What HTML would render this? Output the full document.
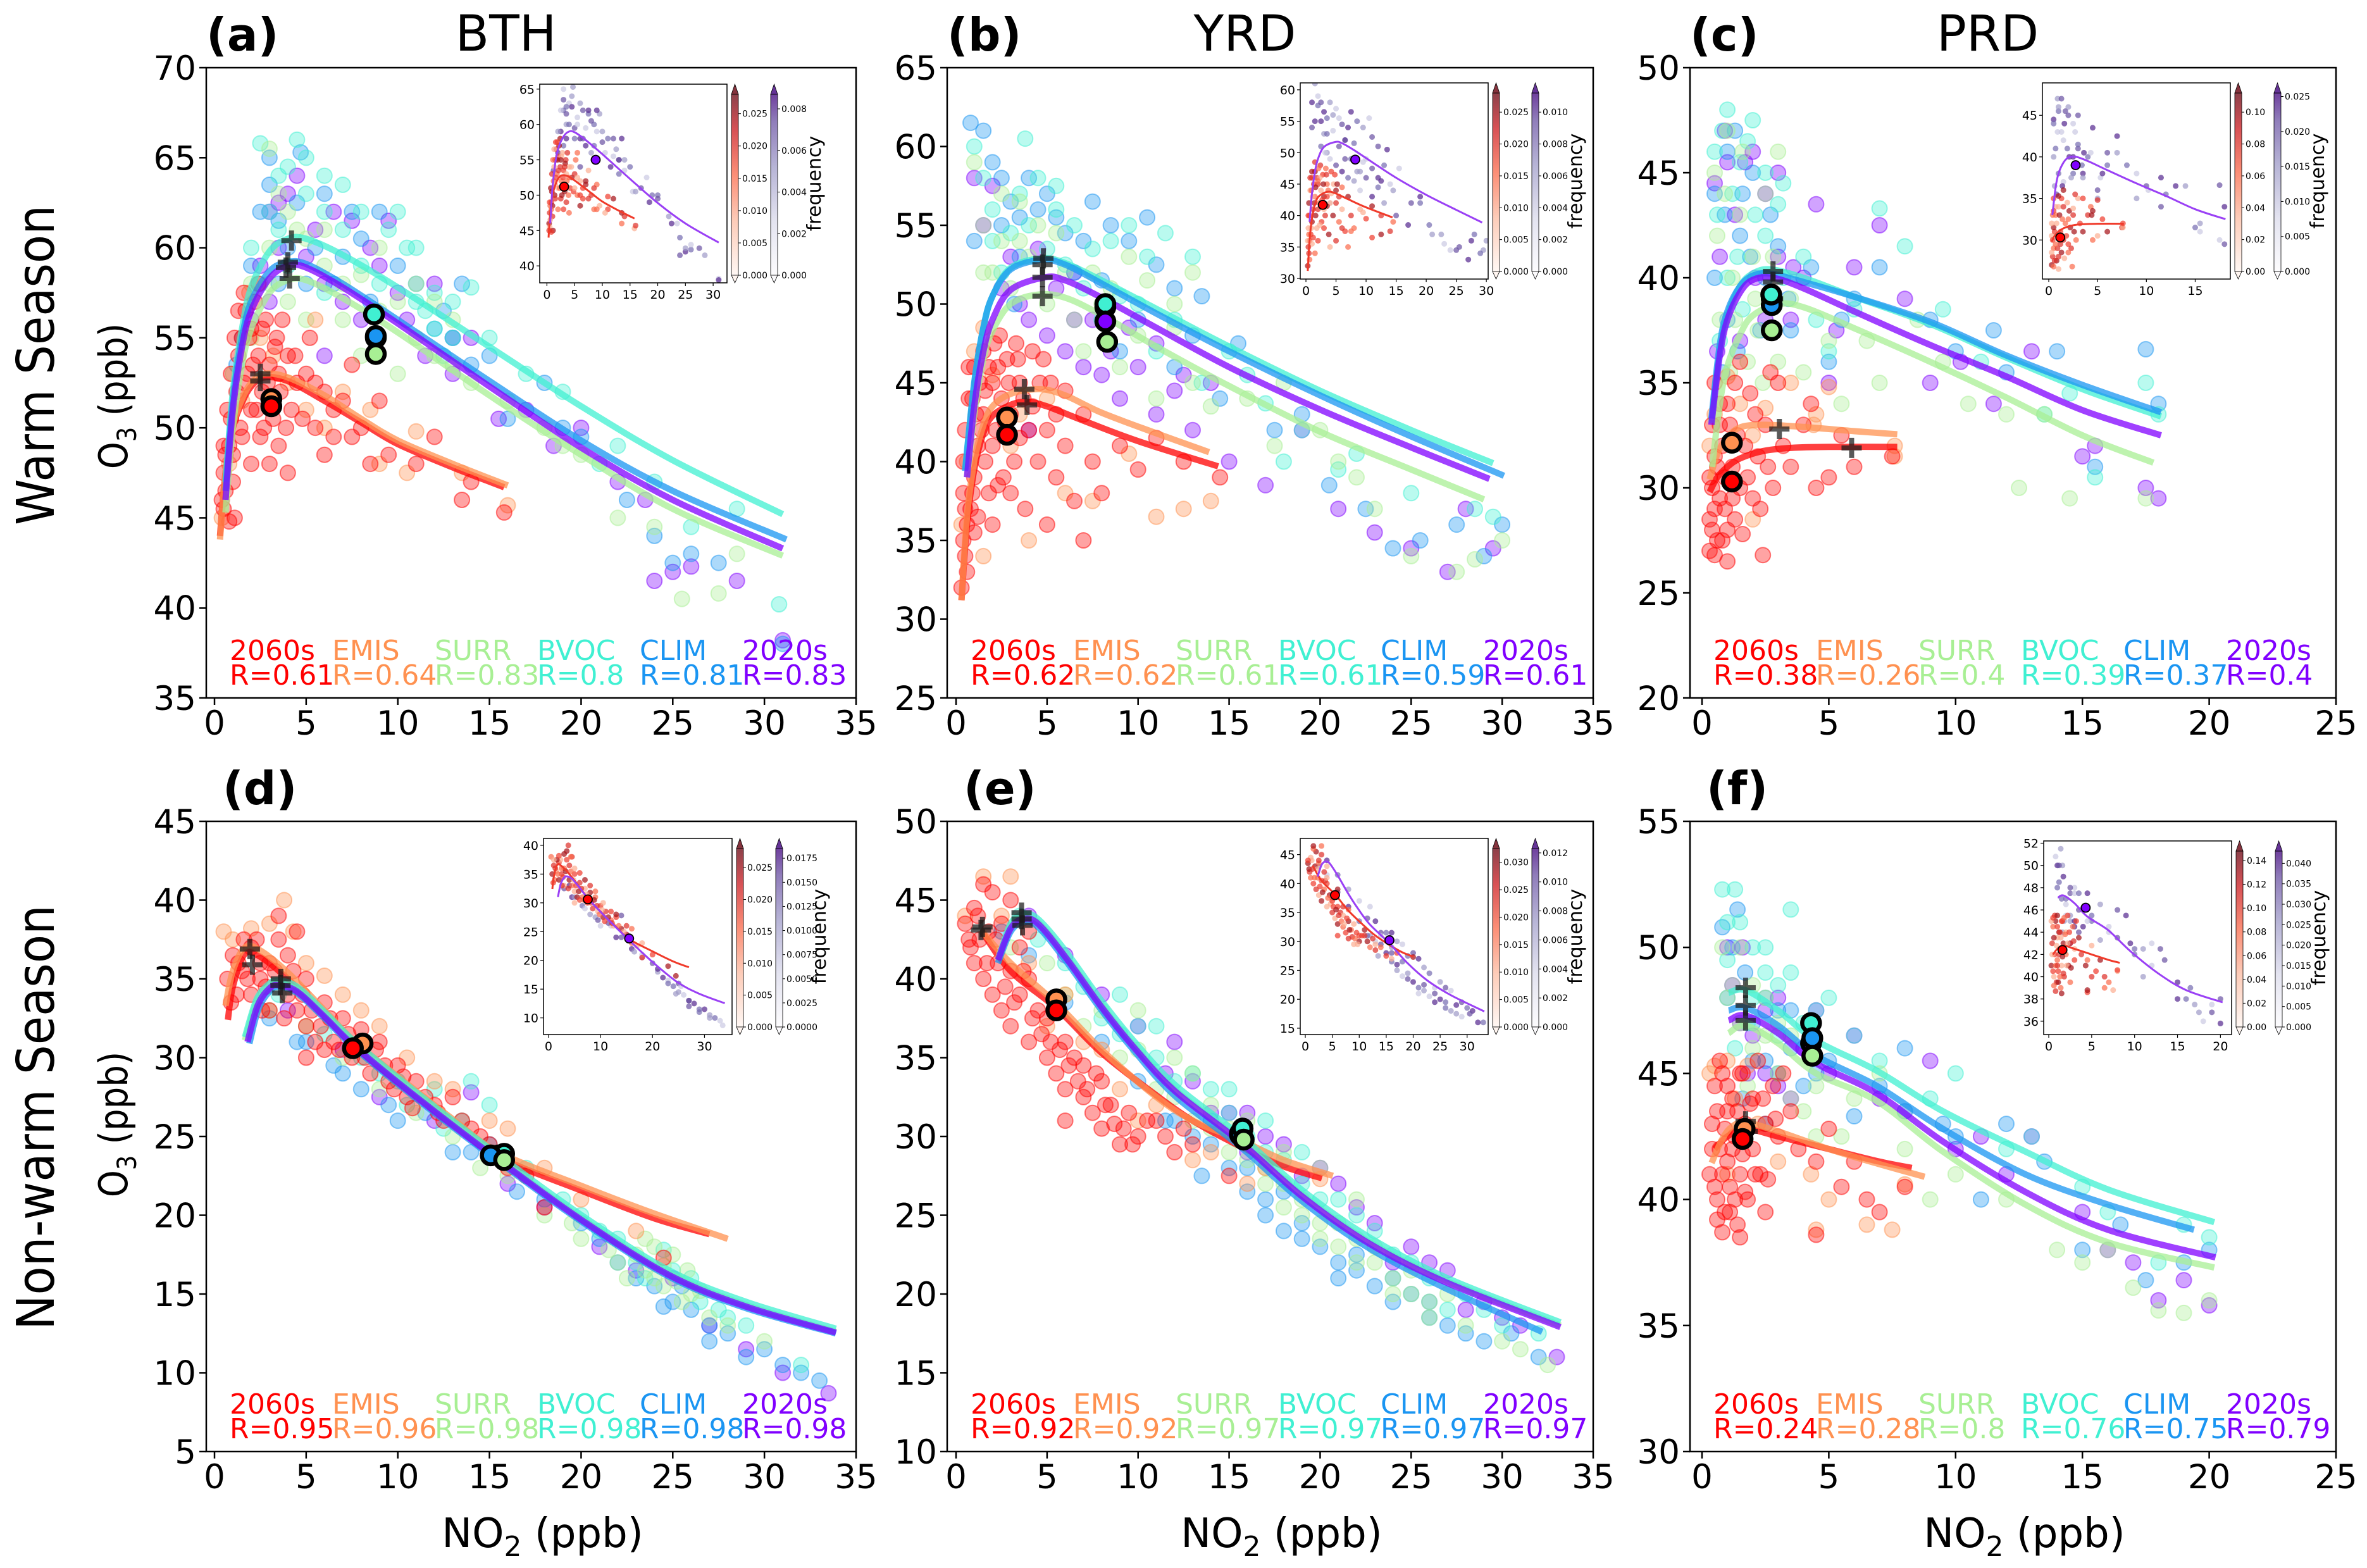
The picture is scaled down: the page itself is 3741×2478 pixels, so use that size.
<!DOCTYPE html>
<html><head><meta charset="utf-8"><title>O3 vs NO2 scatter panels</title>
<style>html,body{margin:0;padding:0;background:#fff}svg{display:block}text{font-family:"DejaVu Sans","Liberation Sans",sans-serif}</style>
</head><body>
<svg id="fig" xmlns="http://www.w3.org/2000/svg" width="3741" height="2478" viewBox="0 0 3741 2478"></svg>
<script>
// ---------- series ----------
const seriesNames = ['2060s','EMIS','SURR','BVOC','CLIM','2020s'];
const seriesColors = ['#ff0000','#ff9150','#a8ef94','#40f0d2','#1a95f2','#8000ff'];

// ---------- panel (a) BTH warm ----------
const a_2060s = [[0.4,46],[0.5,47.5],[0.6,48.5],[0.5,45.5],[0.8,49],[0.9,50.5],[1,47],[1.2,52],[1.3,54],[1.5,55],[1.4,50],[1.7,56.5],[1.8,53],[2,51],[2,55.5],[2.2,57],[2.4,54],[2.6,52],[2.8,56],[3,53.5],[3.2,50.5],[3.4,55],[3.6,52],[4,54],[4.2,51],[4.5,52.5],[5,53],[5.5,50],[6,52],[6.5,49.5],[7,51.5],[8,50],[9,51.5],[9.5,48.5],[11,48],[12,49.5],[14,47],[13.5,46],[15.8,45.3],[3,48],[1.1,45],[2.5,49.5],[5.2,55],[7.5,53.5],
 [0.5,49],[0.7,51],[0.9,53],[1.1,55],[1.3,56.5],[1.6,57.5],[1.9,55],[2.1,53.5],[2.3,51],[2.6,55.5],[2.9,52.5],[3.3,54.5],[3.7,56],[3.9,50],[4.4,54],[4.8,50.5],[1,48.5],[1.5,49.5],[2,48],[0.6,46.5],[0.8,44.8],[2.7,50],[3.5,49],[4,47.5],[5.5,52.5],[6.5,51],[6,48.5],[7.5,49.5],[8.5,48],[3.5,53],[1.6,52.5],[2.4,58]];
const a_EMIS = [[0.4,45],[0.8,48],[1.5,51.5],[1.9,57.5],[2.5,55],[3.2,54],[4,52.5],[5,51],[6,50],[7,52],[8.5,51],[9,48],[10.5,47.5],[11,49.8],[13.5,47.5],[16,45.7],[5.5,56]];
const a_SURR = [[1,53],[2,55],[3,58],[3.5,63],[4,57],[4.5,61],[5,56],[6,59],[7,58],[8,54],[9,56.5],[10,53],[11,55],[12,57],[14,52.5],[16,51.5],[18,50],[20,48.5],[22,45],[24,44.5],[25.5,40.5],[27.5,40.8],[28.5,43],[19,49],[13,56],[3,65.5],
 [2,58],[3,60],[4,62],[5,60.5],[6,61],[7,56],[8,58.5],[9,60],[10,57],[11,58],[12,54],[13,53.5]];
const a_BVOC = [[2.5,65.8],[3,62],[3.5,64],[4.5,66],[5,63],[6,64],[7,61],[8,62],[9.5,61],[10.5,60],[11,57],[11.5,56.5],[12,55.5],[13,55],[14,57.8],[15,55],[17,53],[19,52],[21,48],[22,49],[24,47],[26,44.5],[28.5,45.5],[30.8,40.2],[2,60],[4,59],[6,57.5],[9,58],
 [2.5,58],[3.5,61],[4,64.5],[5,65],[6,62],[7,63.5],[8,59],[10,62],[11,60],[12,57.5],[13,57],[12.5,54]];
const a_CLIM = [[1.5,55],[2.5,62],[3,63.5],[3.5,58],[4,60],[4.7,65.3],[5.5,60],[6.5,58],[7.5,62],[8.5,57],[10,59],[12,55.5],[13,55],[13.5,58],[15,54],[16,50.5],[18,52.5],[20,49.5],[22.5,46],[24,44],[25,42.5],[26,43],[27.5,42.5],[31,38],[19,50],
 [2,59],[3,65],[3.5,61.5],[4.5,62.5],[5,58],[6,63],[7,59.5],[8,60.5],[9,62],[11,58],[12.5,56.5],[14,53.5],[1.2,53.5]];
const a_2020s = [[2,56],[3,62],[3.5,60],[4,63],[5,59.5],[6,58],[7.5,61.5],[8,56],[9,59],[10,57.5],[11.5,54],[13,53],[14,55],[15.5,50.5],[17,51],[18.5,49],[20,50],[22,47],[23.5,46],[24,41.5],[25,42],[26,42.3],[28.5,41.5],[31,38.2],[6,54],
 [2.5,59],[3.5,62.5],[4.5,64],[5.5,61],[6.5,62],[7,57],[8.5,60],[9.5,61.5],[10.5,56],[12,58],[13,55],[3,57]];
const a_curve_2060s = [[0.3,44],[0.6,47.5],[1,50],[1.5,51.4],[2,52.3],[2.7,52.8],[4,52.6],[6,51.5],[8,50.3],[10,49.1],[13,47.8],[15.8,46.7]];
const a_curve_EMIS = [[0.3,43.8],[0.6,47.5],[1,50.1],[1.5,51.6],[2,52.5],[2.7,53],[4,52.8],[6,51.8],[8,50.5],[10,49.3],[13,48],[16,46.8]];
const a_curve_SURR = [[0.6,45.3],[1,50],[1.5,53.5],[2,55.5],[3,57.5],[4,58.2],[5,58.2],[7,57.2],[10,55.3],[15,51.8],[20,48.5],[25,45.5],[31,42.9]];
const a_curve_BVOC = [[0.6,47],[1,52],[1.5,55.5],[2,57.8],[3,59.8],[4,60.5],[5,60.5],[7,59.6],[10,57.8],[15,54.5],[20,51.2],[25,48.2],[31,45.2]];
const a_curve_CLIM = [[0.6,46.5],[1,51.5],[1.5,55],[2,57],[3,58.7],[4,59.2],[5,59.1],[7,58],[10,56],[15,52.6],[20,49.3],[25,46.5],[31.2,43.8]];
const a_curve_2020s = [[0.6,46],[1,51],[1.5,54.5],[2,56.5],[3,58.3],[4,59],[5,58.9],[7,57.8],[10,55.8],[15,52.3],[20,48.9],[25,46],[31,43.3]];
const a_markers = [['EMIS',3.1,51.6],['2060s',3.1,51.2],['2020s',8.8,55],['CLIM',8.8,55.1],['SURR',8.8,54.1],['BVOC',8.7,56.3]];
const a_crosses = [[2.5,53],[2.5,52.6],[4.2,60.4],[4,59.2],[3.9,58.9],[4.1,58.3]];
const a_R = ['0.61','0.64','0.83','0.8','0.81','0.83'];

// ---------- panel (b) YRD warm ----------
const b_2060s = [[0.3,32],[0.5,34],[0.6,36],[0.4,38],[0.8,37],[1,39],[1.2,41],[1.5,43],[0.7,44],[1,46],[1.5,47],[2,45],[2.2,42],[2.5,44],[2.8,46.5],[3,43],[3.2,40],[3.5,45],[4,42],[4.2,47],[4.5,40],[5,42],[5.5,39],[6,41],[6.5,37.5],[7,43],[7.5,40],[8,38],[9,41],[10,39.5],[11,41.5],[12.5,40],[14.5,39],[1.8,38],[2.6,39],[3.8,37],[5,36],[7,35],[1,35.5],[2,36],[1.4,42],[2.4,48],[3.3,47.5],[4.6,45],
 [0.4,40],[0.5,42],[0.7,46],[0.9,44],[1.1,43],[1.3,45],[1.6,44.5],[1.8,46],[2.1,47.5],[2.3,46],[2.7,42.5],[2.9,45],[3.4,46.5],[3.7,44],[4.2,43.5],[4.8,46.5],[5.2,45],[0.4,35],[0.6,33],[0.9,38],[1.2,36.5],[1.6,40],[2,41],[0.5,37],[2.3,38.5],[3,38],[3.5,41.5],[5.5,43],[6,44.5]];
const b_EMIS = [[0.3,36],[0.6,40],[1,47],[1.5,48.5],[2,45.5],[3,41],[3.5,43],[5,44],[6,38],[7.5,37.5],[9.5,40.5],[11,36.5],[12.5,37],[14,37.5],[1.5,34],[4,35]];
const b_SURR = [[1,59],[1.5,55],[2,52],[2.5,57],[3,51],[3.5,54],[4,53],[5,50],[6,52],[7,47],[8,50],[9,46],[10,48],[11,44],[12,48.5],[13,45],[14,43.5],[16,44],[17.5,41],[18,45],[20,42],[21,40],[22,39],[23,37],[25,34],[27.5,33],[28.5,33.8],[30,35],
 [1.5,52],[2.5,54],[3.5,56.5],[4.5,55],[5.5,54.5],[6.5,49],[7.5,52],[8.5,51],[9.5,53],[10.5,51.5],[12,50],[13,52]];
const b_BVOC = [[1,60],[1.5,58],[2,56],[3,54.5],[4,55],[5,53.5],[6,52.5],[7,51],[8,49],[9,50.5],[10,50],[11,47],[12,49],[13.5,45],[15,47],[16,45.5],[17,43.7],[18,40],[19,42],[21,39.5],[22,40.5],[25,38],[28.5,37],[29.5,36.5],[3.8,60.5],[5.5,56],
 [2,54],[2.5,52],[3.5,57],[4.5,58],[5.5,57.5],[6.5,55],[7.5,53.5],[8.5,54],[9.5,55],[10.5,53],[11.5,54.5],[13,53]];
const b_CLIM = [[0.8,61.5],[1.5,61],[2,59],[2.5,58],[3,56.5],[3.5,55.5],[4.5,56],[5.5,55.5],[6.5,52],[7,54],[8,51.5],[9,47],[10,49],[11,52.5],[12,46],[13,48],[14.5,44],[15.5,47.5],[17.5,42],[19,43],[20.5,38.5],[22.5,37],[24,34.5],[25.5,35],[27.5,36],[29,34],[30,36],[3.2,50],
 [1,54],[2.5,55],[3.5,53],[4,58],[5,57],[6,54.5],[7.5,56.5],[8.5,55],[9.5,54],[10.5,55.5],[12,51],[13.5,50.5]];
const b_2020s = [[1,58],[2,57.5],[3,53],[4,49],[5,48],[6,47],[7,46],[8,45.5],[9,44],[10,46],[11,43],[12,44.5],[13,42],[14,45],[15,40],[17,38.5],[19,42],[21,37],[23,35.5],[25,34.5],[27,33],[28,37],[29.5,34.5],[4,42],[6.5,49],
 [1.5,55],[2.5,51],[3.5,50],[4.5,53.5],[5.5,51],[6.5,52],[7.5,49],[8.5,47],[9.5,48.5],[11,47.5],[12.5,45.5]];
const b_curve_2060s = [[0.3,31.2],[0.6,36],[1,39.5],[1.5,41.8],[2,42.9],[3,43.6],[3.9,43.8],[5,43.5],[7,42.6],[10,41.3],[14.4,39.7]];
const b_curve_EMIS = [[0.3,31.2],[0.6,36.5],[1,40],[1.5,42.3],[2,43.5],[3,44.3],[4.6,44.6],[6,44.2],[8,43.1],[11,41.8],[13.9,40.6]];
const b_curve_SURR = [[0.6,39],[1,43],[1.5,46.5],[2,48.3],[3,50],[4.5,50.6],[6,50.4],[8,49.3],[11,47.3],[15,44.8],[20,41.9],[25,39.5],[29,37.6]];
const b_curve_BVOC = [[0.5,39.5],[1,45],[1.5,48.5],[2,50.5],[3,52.3],[4.7,52.9],[6,52.6],[8,51.5],[11,49.7],[15,47.3],[20,44.5],[25,42],[29.5,39.9]];
const b_curve_CLIM = [[0.5,39.4],[1,45],[1.5,48.5],[2,50.5],[3,52.2],[4.7,52.8],[6,52.5],[8,51.3],[11,49.4],[15,47],[20,44.2],[25,41.6],[30.1,39.1]];
const b_curve_2020s = [[0.6,39],[1,43.5],[1.5,47],[2,49],[3,50.9],[4.9,51.7],[6,51.5],[8,50.4],[11,48.5],[15,46],[20,43.3],[25,40.9],[29.3,38.9]];
const b_markers = [['EMIS',2.8,42.8],['2060s',2.8,41.7],['CLIM',8.2,49.8],['BVOC',8.2,50.0],['2020s',8.2,48.9],['SURR',8.3,47.6]];
const b_crosses = [[3.75,44.6],[3.9,43.6],[4.8,52.9],[4.75,51.7],[4.75,50.5],[4.75,52.5]];
const b_R = ['0.62','0.62','0.61','0.61','0.59','0.61'];

// ---------- panel (c) PRD warm ----------
const c_2060s = [[0.3,27],[0.4,28],[0.5,29],[0.3,30.5],[0.6,31],[0.8,27.5],[0.9,29],[0.7,33],[1,34],[1.2,31],[1.3,28.5],[1.5,30],[1.7,32],[1.9,34.5],[2,29.5],[2.2,31.5],[2.5,33],[2.8,30],[3,35],[3.2,32],[3.5,31],[4,33],[4.3,34],[5,30.5],[5.5,32.5],[6,31],[7.5,31.5],[2.4,26.8],[1,26.5],[0.5,35],[1.5,36],[2.7,35.5],[4.5,30],
 [0.3,28.5],[0.4,30],[0.5,31.5],[0.6,27.5],[0.7,29.5],[0.8,32],[0.9,30.5],[1.1,33],[1.2,29.5],[1.4,32.5],[1.6,27.8],[1.8,30.5],[2.1,33.5],[2.3,29],[0.5,26.8],[0.7,34],[1.3,35],[2.6,31],[1,28],[0.4,33]];
const c_EMIS = [[0.3,32],[0.5,33.5],[1,35.3],[1.5,34],[2,32.5],[2.5,33.8],[3.5,35],[4.5,33.5],[5,34.8],[2,28.5],[7.6,31.5],[7.6,32],[4.4,33]];
const c_SURR = [[0.5,45],[1,47],[1.5,43],[2,41],[2.5,44],[3,36],[3,46],[3.5,39],[4,35.5],[5,37],[5.5,34],[6.5,37],[7,35],[8.5,38],[9.5,36],[10.5,34],[12,33.5],[12.5,30],[13.5,33.5],[14.5,29.5],[17.5,29.5],[2.2,37.5],[1.3,38],
 [0.6,42],[0.9,44],[1.2,40],[1.6,46],[1.8,36],[2.1,39],[2.4,35],[0.7,38],[1.1,35.5],[2.8,41]];
const c_BVOC = [[0.5,46],[1,48],[1.5,45.5],[2,47.5],[2.5,42],[3,43.5],[3.2,40],[4,41],[4.5,38],[5,36.5],[6,38.5],[7,43.3],[8,41.5],[9.5,38.5],[11,36],[13.5,33.5],[14.5,34.5],[15.5,30.5],[17.5,35],[18,33.5],[1,40],
 [0.6,43],[0.8,47],[1.2,44],[1.4,41],[1.8,46.5],[2.1,43],[2.5,45],[0.7,37],[1.6,38.5],[3.2,44.5]];
const c_CLIM = [[0.5,44],[1,46],[1.5,42],[2,45],[2.5,40],[3,41.5],[3.5,37.5],[4.3,40.5],[5,36],[5.5,38],[6,39],[7,40.5],[9,38],[10,36.5],[11.5,37.5],[12,35.5],[14,36.5],[15.5,31],[17.5,36.6],[18,34],[1,38],
 [0.5,40],[0.9,43],[1.3,47],[1.6,44],[1.9,41],[2.3,37.5],[2.7,43],[0.8,35.5],[1.4,36.5],[3.4,39]];
const c_2020s = [[0.5,44.5],[1,45.5],[2,46],[2.5,44],[3,41],[3.5,38],[4,40],[5,35],[5.3,37.5],[6,40.5],[7,42.5],[8,39],[9,35],[10.2,36],[11.5,34],[13,36.5],[15,31.5],[15.5,32],[17.5,30],[18,29.5],[4.5,43.5],
 [0.7,41],[0.9,47],[1.3,43],[1.7,45.5],[2.1,40],[2.5,38],[0.6,36.5],[1.5,37],[3,45],[3.6,40.5]];
const c_curve_2060s = [[0.3,29.8],[0.6,30.5],[1,31],[1.5,31.4],[2.4,31.75],[3.5,31.9],[5,31.95],[7.7,31.95]];
const c_curve_EMIS = [[0.3,30.4],[0.6,31.6],[1,32.4],[1.55,32.9],[2.5,33],[4,32.9],[6,32.7],[7.7,32.55]];
const c_curve_SURR = [[0.4,31],[0.7,34],[1,35.8],[1.5,37.3],[2,38.2],[3,38.75],[4,38.6],[6,37.6],[9,36],[12,34.3],[15,32.5],[17.8,31.2]];
const c_curve_BVOC = [[0.37,33.1],[0.7,36.5],[1,38.2],[1.5,39.6],[2,40.2],[2.7,40.4],[4,40],[6,39.1],[9,37.8],[12,36.2],[15,34.7],[18.1,33.4]];
const c_curve_CLIM = [[0.37,33.3],[0.7,36.8],[1,38.4],[1.5,39.6],[2,40.1],[2.7,40.2],[4,39.8],[6,39.1],[9,37.9],[12,36.3],[15,34.9],[18.1,33.6]];
const c_curve_2020s = [[0.37,33],[0.7,36.3],[1,38],[1.5,39.3],[2,39.9],[2.8,40],[4,39.5],[6,38.4],[9,36.8],[12,35.3],[15,33.7],[18.1,32.5]];
const c_markers = [['EMIS',1.18,32.15],['2060s',1.18,30.3],['2020s',2.75,39],['CLIM',2.75,38.7],['BVOC',2.73,39.2],['SURR',2.75,37.5]];
const c_crosses = [[3.05,32.8],[5.9,31.9],[2.8,40.3],[2.8,39.8],[2.8,39.0]];
const c_R = ['0.38','0.26','0.4','0.39','0.37','0.4'];

// ---------- panel (d) BTH non-warm ----------
const d_2060s = [[0.7,35],[1,36.5],[1.2,34],[1.5,35.5],[2,37],[2,34],[2.5,35],[3,36],[3,33],[3.5,37.5],[4,34],[4,36.5],[4.5,33],[5,32],[5,35],[5.5,31],[6,33.5],[6.5,31],[7,32.5],[7.5,30],[8,31.8],[8.5,29],[9,31],[9.5,28.5],[10,29.5],[10.5,27.5],[11,28.5],[12,27],[12.5,26],[13,27.5],[14,25.5],[15,24.5],[16,23],[17,22.5],[18,20.5],[3.5,39],[4.5,38],[2.5,36],[5,30],[6,30.5],[24.5,17.3],
 [1.3,36],[1.8,35],[2.3,37.5],[2.8,34.5],[3.3,35.5],[3.8,32.5],[4.3,35.5],[4.8,34],[5.3,33],[5.8,32],[6.3,32.5],[6.8,30.5],[7.3,31.5],[8.2,30],[8.8,30.5],[9.3,29.5],[9.8,28],[10.3,28.8],[10.8,26.8],[11.5,27.5],[12.2,26.5],[13.5,26],[14.5,25],[0.9,33.5],[1.6,37.5],[2.6,33]];
const d_EMIS = [[0.5,38],[1,37.5],[2,38.2],[3,38.5],[3.8,40],[4.3,38],[5,36],[6,35.2],[7,34],[8,33],[9,32],[10.5,30],[12,28.5],[13,28],[15,26],[16,25.5],[18,23],[20,21],[23,19]];
const d_SURR = [[3,33],[5,32],[7,30],[9,28],[11,26.5],[13,25],[14.5,23],[16,22.5],[18,20],[20,18.5],[22,17],[23.5,16.5],[24.5,16.8],[25,17.5],[26,15],[25.5,14.5],[27,13.5],[28,13],[30,12],[24,18],
 [22.5,16],[23,17.5],[24,16],[24.5,15.5],[25.2,15.8],[25.8,16.5],[26.5,15.2],[23.5,18.5],[21.5,17.8],[19.5,19.5]];
const d_BVOC = [[3.5,34],[6,31.5],[8,30],[10,28.5],[12,28],[13.5,26],[15,27],[17,23],[19,21],[21,19],[23,17],[24.5,17.8],[26,16],[28,13.5],[32,10.5],[14,28.5],
 [20,20],[22,18.5],[23.5,16],[25,16.5],[26.5,14.5],[27.5,14],[29,13],[12.5,25.5],[10.5,27],[9,29]];
const d_CLIM = [[3,32.5],[4.5,31],[6.5,29.5],[8,28],[10,26],[11.5,26.5],[13,24],[15,24.5],[16.5,21.5],[18,21],[20,19.5],[22,17],[24,15.5],[25,14.5],[26,14],[27,13],[28,12.5],[29,11],[31,10.5],[33,9.5],[14,24],
 [21,18.5],[23,16],[24.5,14.2],[25.5,15.5],[27,12],[30,11.5],[32,10],[5,31],[7,29],[9.5,27]];
const d_2020s = [[4,33],[7,30.5],[9,27.5],[12,26],[14,27.8],[16,22],[18,20.5],[21,18],[23,16.5],[25,16],[27,13],[29,11.5],[31,10],[33.5,8.7]];
const d_curve_2060s = [[0.73,32.4],[1,34.5],[1.66,36.6],[2.5,36.4],[4,35],[6,32.7],[7.66,30.7],[10,28.5],[13,25.8],[15.5,23.7],[20.15,21.5],[24,19.8],[27,18.8]];
const d_curve_EMIS = [[0.6,33.3],[1,35.5],[1.66,37],[2.5,36.8],[4,35.4],[6,33],[7.66,31],[10,28.8],[13,26.1],[15.5,24],[20.15,21.8],[24,20.1],[28,18.5]];
const d_curve_SURR = [[1.66,31.1],[2.3,33.5],[3,34.5],[3.5,34.7],[4.5,34.3],[6,32.7],[7.66,30.8],[10.9,27.7],[15.5,23.6],[20.15,19.7],[24.8,16.3],[29,14.3],[33.9,12.6]];
const d_curve_BVOC = [[1.66,31.3],[2.3,33.7],[3,34.7],[3.5,34.9],[4.5,34.5],[6,32.9],[7.66,31],[10.9,27.9],[15.5,23.8],[20.15,19.9],[24.8,16.5],[29,14.5],[33.9,12.8]];
const d_curve_CLIM = [[1.9,30.9],[2.4,33.1],[3,34.2],[3.5,34.5],[4.5,34.1],[6,32.5],[7.66,30.6],[10.9,27.5],[15.5,23.4],[20.15,19.5],[24.8,16.1],[29,14.1],[33.9,12.5]];
const d_curve_2020s = [[1.8,31],[2.35,33.3],[3,34.4],[3.5,34.6],[4.5,34.2],[6,32.6],[7.66,30.7],[10.9,27.6],[15.5,23.5],[20.15,19.6],[24.8,16.2],[29,14.2],[33.9,12.55]];
const d_markers = [['EMIS',8.08,30.9],['2060s',7.55,30.6],['2020s',15.5,23.8],['BVOC',15.8,23.9],['CLIM',15.07,23.8],['SURR',15.8,23.5]];
const d_crosses = [[1.93,36.9],[2.07,35.9],[3.62,35.0],[3.7,34.1],[3.6,34.6]];
const d_R = ['0.95','0.96','0.98','0.98','0.98','0.98'];

// ---------- panel (e) YRD non-warm ----------
const e_2060s = [[0.5,43.5],[0.8,42],[1,41],[1.2,44],[1.5,40],[1.8,43],[2,39],[2.3,41],[2.5,38],[3,40.5],[3,37],[3.5,42],[3.5,39],[4,36],[4,40],[4.5,38],[5,35],[5,37.5],[5.5,34],[6,36],[6,33],[6.5,35],[7,32.5],[7,34.5],[7.5,31.5],[8,33.5],[8,30.5],[8.5,32],[9,29.5],[9.5,31.5],[10,30],[11,31],[12,29],[13,29.5],[15,27.5],[2,45.5],[3,45],[1.5,46],[4,43],[6,31],
 [0.7,42.5],[1.3,42.5],[1.7,41],[2.2,42.5],[2.7,39.5],[3.2,38.5],[3.7,40.5],[4.2,37.5],[4.7,36.5],[5.2,36],[5.7,35.5],[6.2,34.5],[6.7,33.5],[7.2,33],[7.7,34],[8.2,32],[8.7,30.8],[9.2,30.5],[9.7,29.5],[10.5,31],[11.5,30],[12.5,30.5],[2.5,43.5],[1,44.5]];
const e_EMIS = [[0.5,44],[1.5,46.5],[2.5,44],[3,46.5],[4,41],[5,37],[6,39],[7,36],[8,35.5],[9,33],[10,31],[11,32],[13,28.5],[14,29],[16,27],[17,28],[20,27.3]];
const e_SURR = [[3,42],[5,41],[6,39],[7,37],[8,38],[9,35],[10,35.5],[11,33],[12,32.5],[13,31],[14,30.5],[15,29],[16,28.5],[17,27],[18,25.5],[19,26],[20,24.5],[21,23],[22,23.5],[23,22],[24,21],[25,20],[26,19.5],[27,20],[28,18],[30,17],[31,16.5],[32.5,15.5],[13,34],[16,31],[18,29],[20,28],[22,26],
 [10,38],[12,35],[14,32],[15,30.5],[16,29.5],[17,28],[18,27],[19,25],[20,23.5],[21,24.5],[22,22],[23,23],[24,20],[25,21.5],[26,18.5]];
const e_BVOC = [[3.5,44],[4.5,42.5],[6,41],[7,39.5],[8,37.5],[9,36.5],[10,37],[11,35],[12,33.5],[14,33],[15,31.5],[16,30],[17,31],[18,28.5],[19,27],[20,26],[22,25],[24,22.5],[26,21],[28,20],[30,18],[32,17.5],[9,39],
 [11,37],[13,34],[15,33],[17,29],[19,29],[21,26],[23,24],[25,22],[27,19],[29,19]];
const e_CLIM = [[2.5,43],[4,41.5],[6,38.5],[8,36],[10,33.5],[12,31],[13,30],[14,29.5],[15,28],[16,26.5],[17,25],[18,24],[19,23.5],[20,23],[21,22],[22,21.5],[23,20.5],[24,21],[25,20],[26,18.5],[27,18],[29,17],[30.5,17.5],[32,16],[11.5,31],[13.5,27.5],
 [14,31],[16,28],[17,26],[18,26.5],[19,24.5],[21,21],[22,22.5],[24,19.5],[26,19.5],[28,17.5]];
const e_2020s = [[4,44],[6,41.5],[8,39],[10,37],[11.5,34],[13,33.5],[15,31.5],[17,30],[18,29.5],[20,28],[21,27],[23,24.5],[25,23],[27,21.5],[29,19.5],[31,18],[33,16],[16,29],
 [12,36],[14,31.5],[16,31.5],[19,27.5],[22,25.5],[24,22],[26,22],[28,19],[30,18.5]];
const e_curve_2060s = [[1.37,43.1],[3,40.5],[5.55,38.1],[8,35.3],[10.9,32.7],[13,31],[15.56,29.4],[18,28.1],[20.1,27.35]];
const e_curve_EMIS = [[1.37,43.1],[3,41],[5.55,38.4],[8,35.5],[10.9,32.6],[13,31],[15.56,29.8],[18,28.5],[20.7,27.5]];
const e_curve_SURR = [[2.3,41.3],[3,43.3],[3.7,43.9],[4.5,43.6],[6,41.5],[8,38.3],[9.74,35.8],[12,33],[15.56,29.8],[19,26.3],[22.7,23.3],[27,20.8],[33.2,18]];
const e_curve_BVOC = [[2.4,41.5],[3,43.5],[3.7,44.1],[4.5,43.8],[6,41.8],[8,38.6],[9.74,36.1],[12,33.3],[15.56,30.1],[19,26.6],[22.7,23.6],[27,21],[33.2,18.2]];
const e_curve_CLIM = [[2.3,41],[3,43],[3.7,43.6],[4.5,43.3],[6,41.2],[8,38],[9.74,35.5],[12,32.6],[15.56,29.4],[19,25.9],[22.7,22.9],[27,20.3],[32.2,17.6]];
const e_curve_2020s = [[2.3,41.2],[3,43.2],[3.7,43.8],[4.5,43.5],[6,41.4],[8,38.2],[9.74,35.7],[12,32.9],[15.56,29.7],[19,26.2],[22.7,23.2],[27,20.7],[33.2,17.9]];
const e_markers = [['EMIS',5.51,38.7],['2060s',5.51,38.0],['2020s',15.6,30.2],['CLIM',15.6,30.1],['BVOC',15.74,30.5],['SURR',15.8,29.8]];
const e_crosses = [[1.37,43.1],[1.45,43.3],[3.6,43.8],[3.65,43.4],[3.6,44.2]];
const e_R = ['0.92','0.92','0.97','0.97','0.97','0.97'];

// ---------- panel (f) PRD non-warm ----------
const f_2060s = [[0.3,41],[0.4,43],[0.5,44.5],[0.6,40],[0.7,42],[0.8,45],[0.9,39.5],[1,41.5],[1,43.5],[1.1,40.5],[1.2,44],[1.3,42.5],[1.4,39],[1.5,41],[1.6,45],[1.7,43],[1.8,40],[2,42],[2,44],[2.2,45.5],[2.3,41],[2.5,43],[2.8,44.5],[3,42.5],[3.2,45],[3.5,43.5],[3.8,42],[4.5,41.5],[5,42.8],[5.5,40.5],[6,41.5],[6.5,40],[7,39.5],[8,40.5],[4.5,38.6],[1.5,38.5],[0.8,38.7],[2.5,39.5],
 [0.4,42],[0.5,40.5],[0.6,43.5],[0.7,45.5],[0.8,41],[0.9,42.8],[1,44.5],[1.1,39.5],[1.2,42],[1.3,40],[1.4,43.5],[1.5,45],[1.6,41.8],[1.7,40.3],[1.9,43.8],[2.1,41],[2.4,44],[2.6,40.8],[2.9,43.2],[0.6,39.2]];
const f_EMIS = [[0.3,45],[0.5,45.3],[1,45.5],[1.3,44],[1.8,45.3],[2.2,43],[3,41.5],[4.3,41],[5,40],[6.5,39],[7.5,38.8],[8,40.6],[4.5,38.8],[1,41]];
const f_SURR = [[0.8,50],[1,48],[1.5,47],[2,46],[2.5,48],[3,45],[3.5,44],[4,43.5],[4.5,44.5],[5.5,42.5],[6,44],[7,45],[8,42],[9,40],[10,41],[12,40],[14,38],[15,37.5],[16,38],[17,36.5],[18,35.6],[19,35.5],[20,36],
 [1.2,48.5],[1.5,50],[2,48.5],[2.5,46.5],[3,47],[3.5,46.5],[1.8,44.5],[4.5,42.5]];
const f_BVOC = [[0.8,52.3],[1,51],[1.3,52.3],[2,50],[2.5,49],[3,48.5],[3.5,51.5],[4,47],[5,48],[6,46.5],[7,45.5],[8,43.5],[9,44],[10,45],[12,42],[13,42.5],[15,40.5],[16,39.5],[18,37.5],[19,39],[20,38.5],[1.8,47],
 [1,49.5],[1.5,51],[2,48],[2.5,50],[3,46.5],[3.5,49],[4.5,47.5],[1.3,46]];
const f_CLIM = [[0.8,50.8],[1.2,50],[1.7,49],[2,47],[2.5,45.5],[3,47.5],[3.5,46],[4,44.5],[5,45.5],[6,43.3],[7,44.5],[8,46],[9.5,43],[10,42.5],[11,40],[12,43],[13.5,41.5],[15,38],[16.5,39],[17.5,36.8],[19,37.5],[20,38],[2.5,43],
 [1,48],[1.4,51.5],[2,45.5],[2.5,48],[3,45],[3.5,47.5],[1.6,44],[4.5,45]];
const f_2020s = [[1,50],[1.5,47],[2.5,45],[3,48],[3.5,44],[4.5,47.5],[5,45],[6,46.5],[7,44],[8,43.5],[9,45.5],[10,42],[11,42.5],[12,41],[13,42.5],[15,39.5],[16,38],[17,37.5],[18,36],[19,36.8],[20,35.8],
 [1.2,48.5],[1.6,50],[2,46.5],[2.5,47.5],[3,44.5],[4,46],[1.8,45]];
const f_curve_2060s = [[0.5,42],[1,42.5],[1.72,42.8],[3,42.5],[5,42],[7,41.5],[8.27,41.25]];
const f_curve_EMIS = [[0.38,41.45],[0.8,42.4],[1.2,42.9],[1.72,43.05],[3,42.7],[5,42],[7,41.4],[8.78,40.9]];
const f_curve_SURR = [[1.05,46.6],[1.72,46.9],[3,46.2],[4.5,45],[6.9,43.9],[9.5,41.9],[12.75,39.8],[16,38.3],[20.2,37.3]];
const f_curve_BVOC = [[1.05,48.2],[1.72,48.3],[3,47.5],[4.5,46.3],[6.9,45.1],[9.5,43.5],[12.75,41.9],[16,40.4],[20.2,39.1]];
const f_curve_CLIM = [[1.05,47.5],[1.72,47.6],[3,46.9],[4.5,45.7],[6.9,44.5],[9.5,42.8],[12.75,41],[16,39.8],[19.4,38.8]];
const f_curve_2020s = [[1.05,47.1],[1.72,47.3],[3,46.6],[4.5,45.4],[6.9,44.2],[9.5,42.3],[12.75,40.3],[16,38.8],[20.25,37.7]];
const f_markers = [['EMIS',1.68,42.8],['2060s',1.6,42.4],['2020s',4.3,46.2],['BVOC',4.3,47.0],['CLIM',4.35,46.4],['SURR',4.35,45.7]];
const f_crosses = [[1.72,48.4],[1.72,47.7],[1.72,47.1],[1.72,43.1],[1.8,42.7]];
const f_R = ['0.24','0.28','0.8','0.76','0.75','0.79'];

// ---------- tick label arrays ----------
const xTicks35 = [0,5,10,15,20,25,30,35];
const xTicks25 = [0,5,10,15,20,25];
const yTicksA = [35,40,45,50,55,60,65,70];
const yTicksB = [25,30,35,40,45,50,55,60,65];
const yTicksC = [20,25,30,35,40,45,50];
const yTicksD = [5,10,15,20,25,30,35,40,45];
const yTicksE = [10,15,20,25,30,35,40,45,50];
const yTicksF = [30,35,40,45,50,55];
const insetXTicksA = [0,5,10,15,20,25,30];
const insetYTicksA = [40,45,50,55,60,65];
const insetXTicksB = [0,5,10,15,20,25,30];
const insetYTicksB = [30,35,40,45,50,55,60];
const insetXTicksC = [0,5,10,15];
const insetYTicksC = [30,35,40,45];
const insetXTicksD = [0,10,20,30];
const insetYTicksD = [10,15,20,25,30,35,40];
const insetXTicksE = [0,5,10,15,20,25,30];
const insetYTicksE = [15,20,25,30,35,40,45];
const insetXTicksF = [0,5,10,15,20];
const insetYTicksF = [36,38,40,42,44,46,48,50,52];
const cbRedA = ['0.000','0.005','0.010','0.015','0.020','0.025'];
const cbPurA = ['0.000','0.002','0.004','0.006','0.008'];
const cbRedB = ['0.000','0.005','0.010','0.015','0.020','0.025'];
const cbPurB = ['0.000','0.002','0.004','0.006','0.008','0.010'];
const cbRedC = ['0.00','0.02','0.04','0.06','0.08','0.10'];
const cbPurC = ['0.000','0.005','0.010','0.015','0.020','0.025'];
const cbRedD = ['0.000','0.005','0.010','0.015','0.020','0.025'];
const cbPurD = ['0.0000','0.0025','0.0050','0.0075','0.0100','0.0125','0.0150','0.0175'];
const cbRedE = ['0.000','0.005','0.010','0.015','0.020','0.025','0.030'];
const cbPurE = ['0.000','0.002','0.004','0.006','0.008','0.010','0.012'];
const cbRedF = ['0.00','0.02','0.04','0.06','0.08','0.10','0.12','0.14'];
const cbPurF = ['0.000','0.005','0.010','0.015','0.020','0.025','0.030','0.035','0.040'];

const panels = [
 {id:'a', title:'BTH', L:326, T:107, W:1027, H:996, xmin:-0.449, xmax:35, ymin:35, ymax:70, xt:xTicks35, yt:yTicksA,
  pts:[a_2060s,a_EMIS,a_SURR,a_BVOC,a_CLIM,a_2020s], curves:[a_curve_2060s,a_curve_EMIS,a_curve_SURR,a_curve_BVOC,a_curve_CLIM,a_curve_2020s], markers:a_markers, crosses:a_crosses, R:a_R,
  inset:{L:853,T:133,W:296,H:314,xmin:-1.3,xmax:32.5,ymin:37.6,ymax:65.7,xt:insetXTicksA,yt:insetYTicksA,cr:cbRedA,cp:cbPurA,rmax:0.028,pmax:0.0087}},
 {id:'b', title:'YRD', L:1497, T:107, W:1021, H:996, xmin:-0.487, xmax:35, ymin:25, ymax:65, xt:xTicks35, yt:yTicksB,
  pts:[b_2060s,b_EMIS,b_SURR,b_BVOC,b_CLIM,b_2020s], curves:[b_curve_2060s,b_curve_EMIS,b_curve_SURR,b_curve_BVOC,b_curve_CLIM,b_curve_2020s], markers:b_markers, crosses:b_crosses, R:b_R,
  inset:{L:2055,T:131,W:297,H:310,xmin:-0.95,xmax:30.3,ymin:29.9,ymax:61.1,xt:insetXTicksB,yt:insetYTicksB,cr:cbRedB,cp:cbPurB,rmax:0.028,pmax:0.0112}},
 {id:'c', title:'PRD', L:2671, T:107, W:1021, H:996, xmin:-0.474, xmax:25, ymin:20, ymax:50, xt:xTicks25, yt:yTicksC,
  pts:[c_2060s,c_EMIS,c_SURR,c_BVOC,c_CLIM,c_2020s], curves:[c_curve_2060s,c_curve_EMIS,c_curve_SURR,c_curve_BVOC,c_curve_CLIM,c_curve_2020s], markers:c_markers, crosses:c_crosses, R:c_R,
  inset:{L:3228,T:131,W:297,H:310,xmin:-0.65,xmax:18.6,ymin:25.3,ymax:48.9,xt:insetXTicksC,yt:insetYTicksC,cr:cbRedC,cp:cbPurC,rmax:0.112,pmax:0.0255}},
 {id:'d', title:'', L:326, T:1298, W:1027, H:996, xmin:-0.449, xmax:35, ymin:5, ymax:45, xt:xTicks35, yt:yTicksD,
  pts:[d_2060s,d_EMIS,d_SURR,d_BVOC,d_CLIM,d_2020s], curves:[d_curve_2060s,d_curve_EMIS,d_curve_SURR,d_curve_BVOC,d_curve_CLIM,d_curve_2020s], markers:d_markers, crosses:d_crosses, R:d_R,
  inset:{L:859,T:1325,W:298,H:310,xmin:-0.97,xmax:35.3,ymin:7.1,ymax:41.2,xt:insetXTicksD,yt:insetYTicksD,cr:cbRedD,cp:cbPurD,rmax:0.028,pmax:0.0185}},
 {id:'e', title:'', L:1497, T:1298, W:1021, H:996, xmin:-0.487, xmax:35, ymin:10, ymax:50, xt:xTicks35, yt:yTicksE,
  pts:[e_2060s,e_EMIS,e_SURR,e_BVOC,e_CLIM,e_2020s], curves:[e_curve_2060s,e_curve_EMIS,e_curve_SURR,e_curve_BVOC,e_curve_CLIM,e_curve_2020s], markers:e_markers, crosses:e_crosses, R:e_R,
  inset:{L:2055,T:1325,W:297,H:310,xmin:-0.94,xmax:33.9,ymin:13.9,ymax:47.8,xt:insetXTicksE,yt:insetYTicksE,cr:cbRedE,cp:cbPurE,rmax:0.0325,pmax:0.0123}},
 {id:'f', title:'', L:2671, T:1298, W:1021, H:996, xmin:-0.474, xmax:25, ymin:30, ymax:55, xt:xTicks25, yt:yTicksF,
  pts:[f_2060s,f_EMIS,f_SURR,f_BVOC,f_CLIM,f_2020s], curves:[f_curve_2060s,f_curve_EMIS,f_curve_SURR,f_curve_BVOC,f_curve_CLIM,f_curve_2020s], markers:f_markers, crosses:f_crosses, R:f_R,
  inset:{L:3230,T:1329,W:297,H:306,xmin:-0.59,xmax:21.3,ymin:34.8,ymax:52.2,xt:insetXTicksF,yt:insetYTicksF,cr:cbRedF,cp:cbPurF,rmax:0.148,pmax:0.043}}
];

const NS='http://www.w3.org/2000/svg';
const svg=document.getElementById('fig');
function mk(tag, attrs, parent, name, inter){
  const el=document.createElementNS(NS,tag);
  for(const k in attrs) el.setAttribute(k, attrs[k]);
  
  
  parent.appendChild(el);
  return el;
}
function txt(x,y,s,size,parent,name,extra){
  const a=Object.assign({x:x,y:y,'font-size':size,fill:'#000'},extra||{});
  const t=mk('text',a,parent,name,false);
  t.textContent=s;
  return t;
}
function smoothPath(pts){
  if(pts.length<2) return '';
  let d='M'+pts[0][0].toFixed(1)+','+pts[0][1].toFixed(1);
  for(let i=0;i<pts.length-1;i++){
    const p0=pts[i-1]||pts[i], p1=pts[i], p2=pts[i+1], p3=pts[i+2]||p2;
    const c1x=p1[0]+(p2[0]-p0[0])/6, c1y=p1[1]+(p2[1]-p0[1])/6;
    const c2x=p2[0]-(p3[0]-p1[0])/6, c2y=p2[1]-(p3[1]-p1[1])/6;
    d+=' C'+c1x.toFixed(1)+','+c1y.toFixed(1)+' '+c2x.toFixed(1)+','+c2y.toFixed(1)+' '+p2[0].toFixed(1)+','+p2[1].toFixed(1);
  }
  return d;
}
const defs=mk('defs',{},svg,'defs',false);
const gr1=mk('linearGradient',{id:'gReds',x1:'0',y1:'1',x2:'0',y2:'0'},defs,'reds-gradient',false);
[['0','#fff5f0'],['0.3','#fcbba1'],['0.55','#fb6a4a'],['0.8','#cb181d'],['1','#67000d']].forEach(s=>{mk('stop',{offset:s[0],'stop-color':s[1],'stop-opacity':'0.75'},gr1,'gradient-stop',false);});
const gr2=mk('linearGradient',{id:'gPurples',x1:'0',y1:'1',x2:'0',y2:'0'},defs,'purples-gradient',false);
[['0','#fcfbfd'],['0.3','#dadaeb'],['0.6','#9e9ac8'],['0.85','#6a51a3'],['1','#3f007d']].forEach(s=>{mk('stop',{offset:s[0],'stop-color':s[1],'stop-opacity':'0.75'},gr2,'gradient-stop',false);});

const redShades=['#a50f15','#de2d26','#fb6a4a','#fcae91','#ef3b2c'];
const purShades=['#54278f','#756bb1','#9e9ac8','#cbc9e2','#6a51a3'];

panels.forEach((P,pi)=>{
  const g=mk('g',{},svg,'panel-'+P.id,false);
  const sx=v=>P.L+(v-P.xmin)/(P.xmax-P.xmin)*P.W;
  const sy=v=>P.T+P.H-(v-P.ymin)/(P.ymax-P.ymin)*P.H;
  const cp=mk('clipPath',{id:'clip'+P.id},defs,'clip-'+P.id,false);
  mk('rect',{x:P.L,y:P.T,width:P.W,height:P.H},cp,'clip-rect',false);
  const plot=mk('g',{'clip-path':'url(#clip'+P.id+')'},g,'plot-area-'+P.id,false);
  [5,4,3,2,1,0].forEach(si=>{
    const sg=mk('g',{},plot,'scatter-'+seriesNames[si].toLowerCase(),false);
    P.pts[si].forEach(p=>{
      mk('circle',{cx:sx(p[0]).toFixed(1),cy:sy(p[1]).toFixed(1),r:12,fill:seriesColors[si],'fill-opacity':0.36,stroke:seriesColors[si],'stroke-opacity':0.5,'stroke-width':2},sg,'scatter-point',false);
    });
  });
  [0,1,2,3,4,5].forEach(si=>{
    const pts=P.curves[si].map(p=>[sx(p[0]),sy(p[1])]);
    mk('path',{d:smoothPath(pts),fill:'none',stroke:seriesColors[si],'stroke-width':10,'stroke-opacity':0.75,'stroke-linecap':'butt'},plot,'fit-curve-'+seriesNames[si].toLowerCase(),false);
  });
  P.crosses.forEach(c=>{
    const x=sx(c[0]), y=sy(c[1]);
    const cg=mk('g',{opacity:0.72},plot,'peak-cross',false);
    mk('line',{x1:x-16,y1:y,x2:x+16,y2:y,stroke:'#1a1a1a','stroke-width':8},cg,'cross-h',false);
    mk('line',{x1:x,y1:y-16,x2:x,y2:y+16,stroke:'#1a1a1a','stroke-width':8},cg,'cross-v',false);
  });
  P.markers.forEach(m=>{
    const si=seriesNames.indexOf(m[0]);
    mk('circle',{cx:sx(m[1]),cy:sy(m[2]),r:14,fill:seriesColors[si],stroke:'#000','stroke-width':6.5},plot,'mean-marker-'+m[0].toLowerCase(),false);
  });
  mk('rect',{x:P.L,y:P.T,width:P.W,height:P.H,fill:'none',stroke:'#000','stroke-width':2.5},g,'axes-frame',false);
  const xg=mk('g',{},g,'x-axis',false);
  P.xt.forEach(v=>{
    const x=sx(v);
    mk('line',{x1:x,y1:P.T+P.H,x2:x,y2:P.T+P.H+11,stroke:'#000','stroke-width':2.5},xg,'x-tick',false);
    txt(x,P.T+P.H+58,String(v),53,xg,'x-tick-label',{'text-anchor':'middle'});
  });
  const yg=mk('g',{},g,'y-axis',false);
  P.yt.forEach(v=>{
    const y=sy(v);
    mk('line',{x1:P.L-11,y1:y,x2:P.L,y2:y,stroke:'#000','stroke-width':2.5},yg,'y-tick',false);
    txt(P.L-16,y+19,String(v),53,yg,'y-tick-label',{'text-anchor':'end'});
  });
  const lg=mk('g',{},g,'legend',false);
  seriesNames.forEach((n,i)=>{
    txt(P.L+37+i*162,P.T+P.H-60,n,44,lg,'legend-label-'+n.toLowerCase(),{fill:seriesColors[i]});
    txt(P.L+37+i*162,P.T+P.H-21,'R='+P.R[i],44,lg,'legend-r-'+n.toLowerCase(),{fill:seriesColors[i]});
  });
  const letterX = pi<3 ? P.L : P.L+26;
  txt(letterX,P.T-27,'('+P.id+')',72,g,'panel-label',{'font-weight':'bold'});
  if(P.title) txt(P.L+P.W/2-40,P.T-27,P.title,78,g,'panel-title',{'text-anchor':'middle'});

  // ---------- inset ----------
  const I=P.inset;
  const ig=mk('g',{},g,'inset',false);
  const ix=v=>I.L+(v-I.xmin)/(I.xmax-I.xmin)*I.W;
  const iy=v=>I.T+I.H-(v-I.ymin)/(I.ymax-I.ymin)*I.H;
  mk('rect',{x:I.L,y:I.T,width:I.W,height:I.H,fill:'#fff',stroke:'none'},ig,'inset-background',false);
  const icp=mk('clipPath',{id:'iclip'+P.id},defs,'inset-clip',false);
  mk('rect',{x:I.L,y:I.T,width:I.W,height:I.H},icp,'inset-clip-rect',false);
  const ip=mk('g',{'clip-path':'url(#iclip'+P.id+')'},ig,'inset-plot',false);
  P.pts[5].concat(P.pts[4]).forEach((p,k)=>{
    mk('circle',{cx:ix(p[0]),cy:iy(p[1]),r:4.5,fill:purShades[k%5],'fill-opacity':0.7},ip,'inset-point-2020s',false);
  });
  P.pts[0].concat(P.pts[1]).forEach((p,k)=>{
    mk('circle',{cx:ix(p[0]),cy:iy(p[1]),r:4.5,fill:redShades[k%5],'fill-opacity':0.7},ip,'inset-point-2060s',false);
  });
  [[0,'#f03a2a'],[5,'#9a40f5']].forEach(q=>{
    const pts=P.curves[q[0]].map(p=>[ix(p[0]),iy(p[1])]);
    mk('path',{d:smoothPath(pts),fill:'none',stroke:q[1],'stroke-width':3},ip,'inset-curve-'+seriesNames[q[0]].toLowerCase(),false);
  });
  P.markers.forEach(m=>{
    if(m[0]!=='2060s' && m[0]!=='2020s') return;
    const si=seriesNames.indexOf(m[0]);
    mk('circle',{cx:ix(m[1]),cy:iy(m[2]),r:7,fill:seriesColors[si],stroke:'#000','stroke-width':1.8},ip,'inset-marker-'+m[0].toLowerCase(),false);
  });
  mk('rect',{x:I.L,y:I.T,width:I.W,height:I.H,fill:'none',stroke:'#000','stroke-width':1.5},ig,'inset-frame',false);
  I.xt.forEach(v=>{
    const x=ix(v);
    mk('line',{x1:x,y1:I.T+I.H,x2:x,y2:I.T+I.H+5,stroke:'#000','stroke-width':1.2},ig,'inset-x-tick',false);
    txt(x,I.T+I.H+25,String(v),19,ig,'inset-x-tick-label',{'text-anchor':'middle'});
  });
  I.yt.forEach(v=>{
    const y=iy(v);
    mk('line',{x1:I.L-5,y1:y,x2:I.L,y2:y,stroke:'#000','stroke-width':1.2},ig,'inset-y-tick',false);
    txt(I.L-8,y+7,String(v),19,ig,'inset-y-tick-label',{'text-anchor':'end'});
  });
  const cbTop=I.T+16, cbBot=I.T+I.H-12, cbH=cbBot-cbTop;
  [[I.L+I.W+7,'gReds',I.cr,I.rmax,'#67000d','#fff5f0','colorbar-2060s'],[I.L+I.W+69,'gPurples',I.cp,I.pmax,'#3f007d','#fcfbfd','colorbar-2020s']].forEach(cb=>{
    const x=cb[0], w=11;
    const cg=mk('g',{},ig,cb[6],false);
    mk('rect',{x:x,y:cbTop,width:w,height:cbH,fill:'url(#'+cb[1]+')',stroke:'#000','stroke-width':0.8},cg,'colorbar-body',false);
    mk('polygon',{points:(x)+','+cbTop+' '+(x+w)+','+cbTop+' '+(x+w/2)+','+(cbTop-16),fill:cb[4],'fill-opacity':0.8,stroke:'#000','stroke-width':0.8},cg,'colorbar-extend-top',false);
    mk('polygon',{points:(x)+','+cbBot+' '+(x+w)+','+cbBot+' '+(x+w/2)+','+(cbBot+12),fill:cb[5],stroke:'#000','stroke-width':0.8},cg,'colorbar-extend-bottom',false);
    cb[2].forEach(lab=>{
      const y=cbBot-parseFloat(lab)/cb[3]*cbH;
      mk('line',{x1:x+w,y1:y,x2:x+w+4,y2:y,stroke:'#000','stroke-width':1},cg,'colorbar-tick',false);
      txt(x+w+6,y+5,lab,14,cg,'colorbar-tick-label',{});
    });
  });
  const fx=I.L+I.W+148, fy=I.T+I.H/2;
  txt(fx,fy,'frequency',30,ig,'colorbar-title',{'text-anchor':'middle',transform:'rotate(-90 '+fx+' '+fy+')'});
});

function rotLabel(x,y,size,sc,name,build){
  const t=mk('text',{x:0,y:0,'font-size':size,'text-anchor':'middle',fill:'#000',transform:'translate('+x+' '+y+') rotate(-90) scale('+sc+' 1)'},svg,name,false);
  build(t);
  return t;
}
rotLabel(85,577,82,0.9,'row-label-warm',t=>{t.textContent='Warm Season';});
rotLabel(85,1766,82,0.9,'row-label-nonwarm',t=>{t.textContent='Non-warm Season';});
[626,1777].forEach((cy,k)=>{
  rotLabel(201,cy,62,0.88,k===0?'y-axis-title-top':'y-axis-title-bottom',t=>{
    const a=document.createElementNS(NS,'tspan'); a.textContent='O';
    
    
    const b=document.createElementNS(NS,'tspan'); b.textContent='3'; b.setAttribute('font-size','42'); b.setAttribute('dy','14');
    
    
    const c=document.createElementNS(NS,'tspan'); c.textContent=' (ppb)'; c.setAttribute('dy','-14');
    
    
    t.appendChild(a);t.appendChild(b);t.appendChild(c);
  });
});
panels.slice(3).forEach(P=>{
  const t=mk('text',{x:P.L+P.W/2+18,y:2445,'font-size':64,'text-anchor':'middle',fill:'#000'},svg,'x-axis-title',false);
  const a=document.createElementNS(NS,'tspan'); a.textContent='NO';
  
  
  const b=document.createElementNS(NS,'tspan'); b.textContent='2'; b.setAttribute('font-size','44'); b.setAttribute('dy','14');
  
  
  const c=document.createElementNS(NS,'tspan'); c.textContent=' (ppb)'; c.setAttribute('dy','-14');
  
  
  t.appendChild(a);t.appendChild(b);t.appendChild(c);
});
</script>
</body></html>
